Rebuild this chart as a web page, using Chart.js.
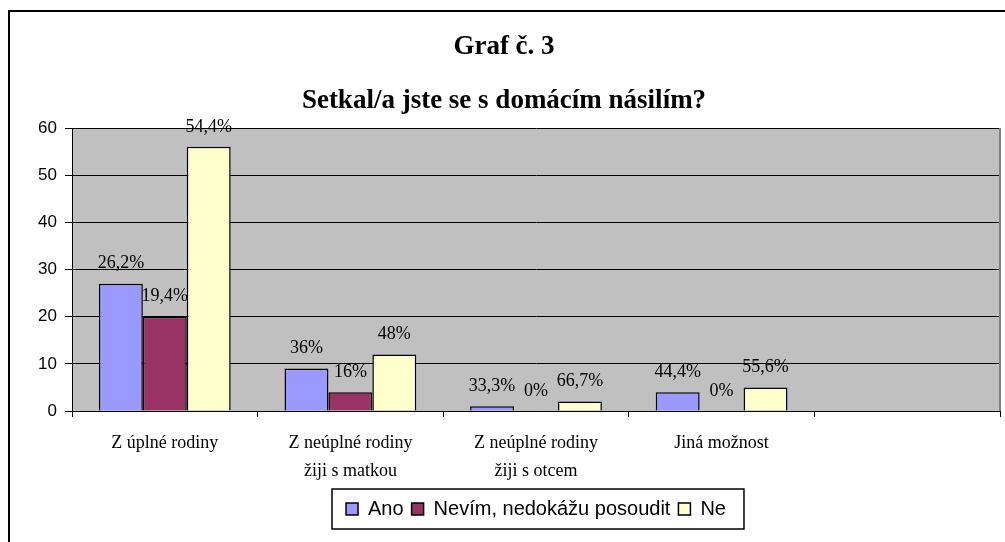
<!DOCTYPE html>
<html>
<head>
<meta charset="utf-8">
<script src="https://cdn.jsdelivr.net/npm/chart.js@4.4.1/dist/chart.umd.min.js"></script>
<style>
  body { margin: 0; background: #fff; }
  #wrap { width: 1005px; height: 542px; position: relative; }
</style>
</head>
<body>
<div id="wrap"><canvas id="graf"></canvas></div>
<script>
// data (counts) + the printed percentages
const categories = [['Z úplné rodiny'], ['Z neúplné rodiny', 'žiji s matkou'], ['Z neúplné rodiny', 'žiji s otcem'], ['Jiná možnost'], ''];
const ano = [27, 9, 1, 4, null];
const nevim = [20, 4, 0, 0, null];
const ne = [56, 12, 2, 5, null];
const anoPct = ['26,2%', '36%', '33,3%', '44,4%', ''];
const nevimPct = ['19,4%', '16%', '0%', '0%', ''];
const nePct = ['54,4%', '48%', '66,7%', '55,6%', ''];
const yMin = 0, yMax = 60, yStep = 10;

const serif = '"Liberation Serif", "Times New Roman", serif';
const sans = '"Liberation Sans", Arial, sans-serif';

// frame, grey plot area, legend box
const frame = {
    id: 'frame',
    beforeDraw(chart) {
        const ctx = chart.ctx, a = chart.chartArea;
        ctx.save();
        ctx.fillStyle = '#fff';
        ctx.fillRect(0, 0, chart.width, chart.height);
        ctx.strokeStyle = '#000';
        ctx.lineWidth = 2;
        ctx.strokeRect(9, 11, chart.width + 50, chart.height + 50);
        ctx.fillStyle = '#c0c0c0';
        ctx.fillRect(a.left, a.top, a.right - a.left, a.bottom - a.top);
        ctx.restore();
    },
    afterDraw(chart) {
        const ctx = chart.ctx, a = chart.chartArea;
        ctx.save();
        ctx.strokeStyle = '#808080';
        ctx.lineWidth = 2;
        ctx.beginPath();
        ctx.moveTo(a.right, a.top);
        ctx.lineTo(a.right, a.bottom);
        ctx.stroke();

        const hb = chart.legend.legendHitBoxes;
        if (hb && hb.length) {
            const last = hb[hb.length - 1];
            const l = hb[0].left - 14, r = last.left + last.width + 18;
            const t = hb[0].top - 10, b = hb[0].top + hb[0].height + 10;
            ctx.strokeStyle = '#000';
            ctx.lineWidth = 1.5;
            ctx.strokeRect(l, t, r - l, b - t);
        }
        ctx.restore();
    }
};

// percent labels above the bars
const pctLabels = {
    id: 'pctLabels',
    afterDatasetsDraw(chart) {
        const ctx = chart.ctx;
        ctx.save();
        ctx.font = '18px ' + serif;
        ctx.fillStyle = '#000';
        ctx.textAlign = 'center';
        ctx.textBaseline = 'middle';
        chart.data.datasets.forEach((ds, i) => {
            chart.getDatasetMeta(i).data.forEach((bar, j) => {
                const t = ds.pct[j];
                if (t) ctx.fillText(t, bar.x, bar.y - 20);
            });
        });
        ctx.restore();
    }
};

new Chart(document.getElementById('graf'), {
    type: 'bar',
    data: {
        labels: categories,
        datasets: [
            { label: 'Ano', data: ano, pct: anoPct, backgroundColor: '#9999ff', borderColor: '#000', borderWidth: 1.5 },
            { label: 'Nevím, nedokážu posoudit', data: nevim, pct: nevimPct, backgroundColor: '#993366', borderColor: '#000', borderWidth: 1.5 },
            { label: 'Ne', data: ne, pct: nePct, backgroundColor: '#ffffcc', borderColor: '#000', borderWidth: 1.5 }
        ]
    },
    options: {
        responsive: true,
        maintainAspectRatio: false,
        animation: false,
        layout: { padding: { left: 8, right: 5, top: 0, bottom: 13 } },
        datasets: { bar: { barPercentage: 1, categoryPercentage: 0.71 } },
        scales: {
            x: {
                grid: { offset: true, drawOnChartArea: false, tickLength: 6, color: '#000' },
                border: { color: '#000', width: 1 },
                ticks: { color: '#000', font: { family: serif, size: 18, lineHeight: 28 / 18 }, padding: 12, maxRotation: 0, autoSkip: false },
                afterFit(s) { s.height = 80; }
            },
            y: {
                min: yMin,
                max: yMax,
                ticks: { stepSize: yStep, color: '#000', font: { family: sans, size: 17 }, padding: 8 },
                grid: { color: '#000', tickLength: 7 },
                border: { color: '#000', width: 1 },
                afterFit(s) { s.width = 64; }
            }
        },
        plugins: {
            tooltip: { enabled: false },
            title: {
                display: true,
                text: ['Graf č. 3', 'Setkal/a jste se s domácím násilím?'],
                color: '#000',
                font: { family: serif, size: 27, weight: 'bold', lineHeight: 54 / 27 },
                padding: { top: 20, bottom: 0 }
            },
            legend: {
                position: 'bottom',
                fullSize: false,
                labels: { boxWidth: 12, boxHeight: 12, color: '#000', font: { family: sans, size: 20 }, padding: 8 }
            }
        }
    },
    plugins: [frame, pctLabels]
});
</script>
</body>
</html>
